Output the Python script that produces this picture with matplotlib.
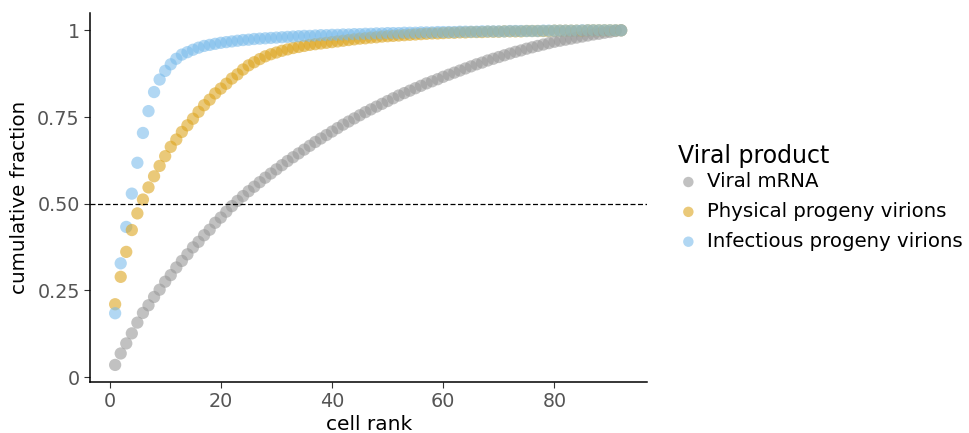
import numpy as np
import matplotlib
matplotlib.use("Agg")
import matplotlib.pyplot as plt

# ---------------------------------------------------------------------------
# Data
# ---------------------------------------------------------------------------
series_names = ["Viral mRNA", "Physical progeny virions", "Infectious progeny virions"]

viral_mrna = [
    0.035, 0.068, 0.097, 0.126, 0.157, 0.185, 0.207, 0.231, 0.252, 0.275,
    0.294, 0.316, 0.335, 0.354, 0.374, 0.390, 0.409, 0.425, 0.445, 0.460,
    0.477, 0.493, 0.508, 0.522, 0.536, 0.549, 0.562, 0.575, 0.587, 0.599,
    0.611, 0.623, 0.634, 0.645, 0.656, 0.667, 0.678, 0.688, 0.698, 0.708,
    0.718, 0.728, 0.737, 0.746, 0.755, 0.764, 0.772, 0.780, 0.788, 0.796,
    0.804, 0.812, 0.819, 0.826, 0.833, 0.840, 0.847, 0.853, 0.859, 0.866,
    0.872, 0.878, 0.884, 0.890, 0.896, 0.902, 0.907, 0.913, 0.918, 0.923,
    0.928, 0.933, 0.938, 0.942, 0.947, 0.951, 0.955, 0.959, 0.963, 0.967,
    0.970, 0.973, 0.976, 0.979, 0.982, 0.985, 0.988, 0.990, 0.993, 0.995,
    0.998, 1.000,
]

physical_virions = [
    0.210, 0.289, 0.361, 0.424, 0.472, 0.512, 0.547, 0.579, 0.609, 0.637,
    0.664, 0.685, 0.707, 0.726, 0.745, 0.765, 0.784, 0.800, 0.818, 0.832,
    0.846, 0.861, 0.873, 0.887, 0.899, 0.908, 0.917, 0.925, 0.931, 0.936,
    0.941, 0.945, 0.949, 0.952, 0.955, 0.958, 0.960, 0.962, 0.964, 0.966,
    0.968, 0.970, 0.972, 0.974, 0.976, 0.977, 0.979, 0.980, 0.982, 0.983,
    0.984, 0.985, 0.986, 0.987, 0.988, 0.989, 0.990, 0.991, 0.991, 0.992,
    0.993, 0.993, 0.994, 0.994, 0.995, 0.995, 0.995, 0.996, 0.996, 0.996,
    0.997, 0.997, 0.997, 0.997, 0.998, 0.998, 0.998, 0.998, 0.998, 0.999,
    0.999, 0.999, 0.999, 0.999, 0.999, 1.000, 1.000, 1.000, 1.000, 1.000,
    1.000, 1.000,
]

infectious_virions = [
    0.184, 0.328, 0.433, 0.529, 0.618, 0.704, 0.767, 0.822, 0.858, 0.883,
    0.902, 0.918, 0.930, 0.937, 0.944, 0.950, 0.955, 0.958, 0.961, 0.964,
    0.966, 0.968, 0.970, 0.972, 0.973, 0.975, 0.976, 0.977, 0.978, 0.979,
    0.980, 0.981, 0.982, 0.983, 0.984, 0.984, 0.985, 0.986, 0.986, 0.987,
    0.987, 0.988, 0.988, 0.989, 0.989, 0.990, 0.990, 0.991, 0.991, 0.992,
    0.992, 0.992, 0.993, 0.993, 0.993, 0.994, 0.994, 0.994, 0.995, 0.995,
    0.995, 0.995, 0.996, 0.996, 0.996, 0.996, 0.997, 0.997, 0.997, 0.997,
    0.997, 0.998, 0.998, 0.998, 0.998, 0.998, 0.998, 0.999, 0.999, 0.999,
    0.999, 0.999, 0.999, 0.999, 1.000, 1.000, 1.000, 1.000, 1.000, 1.000,
    1.000, 1.000,
]

y_ticks = [0, 0.25, 0.5, 0.75, 1]
y_tick_labels = ["0", "0.25", "0.50", "0.75", "1"]
x_ticks = [0, 20, 40, 60, 80]

colors = ["#999999", "#DDA520", "#7DBDEB"]

# ---------------------------------------------------------------------------
# Plot
# ---------------------------------------------------------------------------
fig = plt.figure(figsize=(9.69, 4.33), dpi=100)
ax = fig.add_axes([0.093, 0.118, 0.575, 0.852])

# draw points interleaved by rank so overlapping series blend evenly
all_series = [viral_mrna, physical_virions, infectious_virions]
xs, ys, cs = [], [], []
for i in range(len(viral_mrna)):
    for vals, col in zip(all_series, colors):
        xs.append(i + 1)
        ys.append(vals[i])
        cs.append(col)
ax.scatter(xs, ys, s=78, c=cs, alpha=0.6, edgecolors="none")

# legend proxies
for name, col in zip(series_names, colors):
    ax.scatter([], [], s=78, color=col, alpha=0.6, edgecolors="none", label=name)

ax.axhline(0.5, color="black", linestyle=(0, (4, 2)), linewidth=0.9)

ax.set_xlim(-3.5, 96.7)
ax.set_ylim(-0.014, 1.05)
ax.set_xticks(x_ticks)
ax.set_yticks(y_ticks)
ax.set_yticklabels(y_tick_labels)
ax.tick_params(labelsize=13.8, labelcolor="#555555", color="#333333", length=4)
for side in ("top", "right"):
    ax.spines[side].set_visible(False)
for side in ("left", "bottom"):
    ax.spines[side].set_linewidth(1.1)

ax.set_xlabel("cell rank", fontsize=14.5, labelpad=3)
ax.set_ylabel("cumulative fraction", fontsize=14.3, labelpad=6)

leg = ax.legend(title="Viral product", loc="center left",
                bbox_to_anchor=(1.056, 0.50), frameon=False, fontsize=14.2,
                title_fontsize=17, handlelength=1.0, handletextpad=0.45,
                borderaxespad=0, borderpad=0, labelspacing=0.55,
                markerscale=0.85)
leg._legend_box.align = "left"
leg._legend_box.sep = 3  # tighter gap under the title

fig.savefig("out.png", dpi=100)
